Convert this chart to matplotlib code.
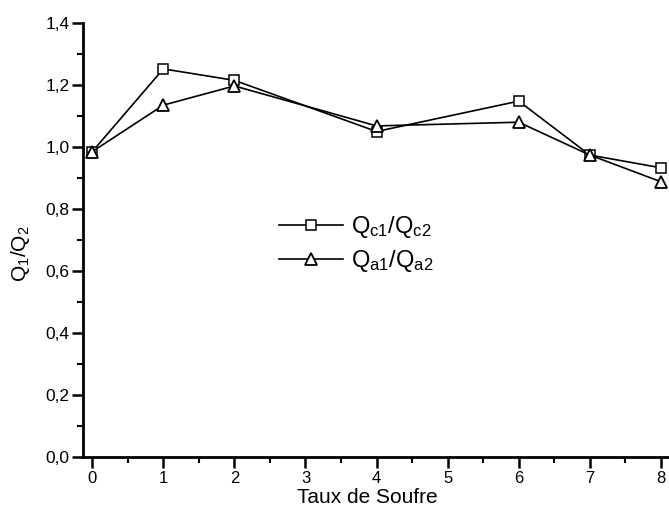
import matplotlib
matplotlib.use("Agg")
import matplotlib.pyplot as plt
from matplotlib.ticker import MultipleLocator, FixedLocator

plt.rcParams['font.family'] = ['Liberation Sans', 'DejaVu Sans']

taux = [0, 1, 2, 4, 6, 7, 8]
qc_ratio = [0.985, 1.252, 1.215, 1.05, 1.148, 0.974, 0.933]
qa_ratio = [0.985, 1.135, 1.197, 1.068, 1.08, 0.974, 0.888]
labels = [r'$\mathregular{Q_{c1}/Q_{c2}}$', r'$\mathregular{Q_{a1}/Q_{a2}}$']
xticks = [0, 1, 2, 3, 4, 5, 6, 7, 8]
yticks = [0.0, 0.2, 0.4, 0.6, 0.8, 1.0, 1.2, 1.4]

fig = plt.figure(figsize=(6.69, 5.07), dpi=100)
ax = fig.add_axes([83/669, 1-457/507, 585/669, 434/507])

ax.plot(taux, qc_ratio, color='black', lw=1.2, marker='s', ms=6.5,
        mfc='white', mec='black', mew=1.1, label=labels[0])
ax.plot(taux, qa_ratio, color='black', lw=1.2, marker='^', ms=8.5,
        mfc='white', mec='black', mew=1.3, label=labels[1])

ax.set_xlim(-0.13, 8.1)
ax.set_ylim(0.0, 1.4)
ax.xaxis.set_major_locator(FixedLocator(xticks))
ax.xaxis.set_minor_locator(MultipleLocator(0.5))
ax.yaxis.set_major_locator(FixedLocator(yticks))
ax.yaxis.set_minor_locator(MultipleLocator(0.1))
ax.set_yticklabels([f"{v:.1f}".replace('.', ',') for v in yticks])
ax.set_xticklabels([str(v) for v in xticks])

for s in ['top', 'right']:
    ax.spines[s].set_visible(False)
for s in ['left', 'bottom']:
    ax.spines[s].set_linewidth(2)
ax.tick_params(which='major', direction='out', length=8, width=1.8, labelsize=12.5)
ax.tick_params(axis='x', which='major', labelsize=12, pad=2)
ax.tick_params(axis='y', which='major', pad=1.5)
ax.tick_params(which='minor', direction='out', length=4, width=1.5)

ax.set_xlabel('Taux de Soufre', fontsize=15)
ax.xaxis.set_label_coords(0.486, -0.071)
ax.set_ylabel(r'$\mathregular{Q_1/Q_2}$', fontsize=15)
ax.yaxis.set_label_coords(-0.088, 0.468)

leg = ax.legend(loc='center left', bbox_to_anchor=(0.335, 0.49), frameon=False,
                fontsize=17, handlelength=2.7, handletextpad=0.35,
                labelspacing=0.35, borderpad=0, borderaxespad=0)

fig.savefig('out.png', dpi=100)
